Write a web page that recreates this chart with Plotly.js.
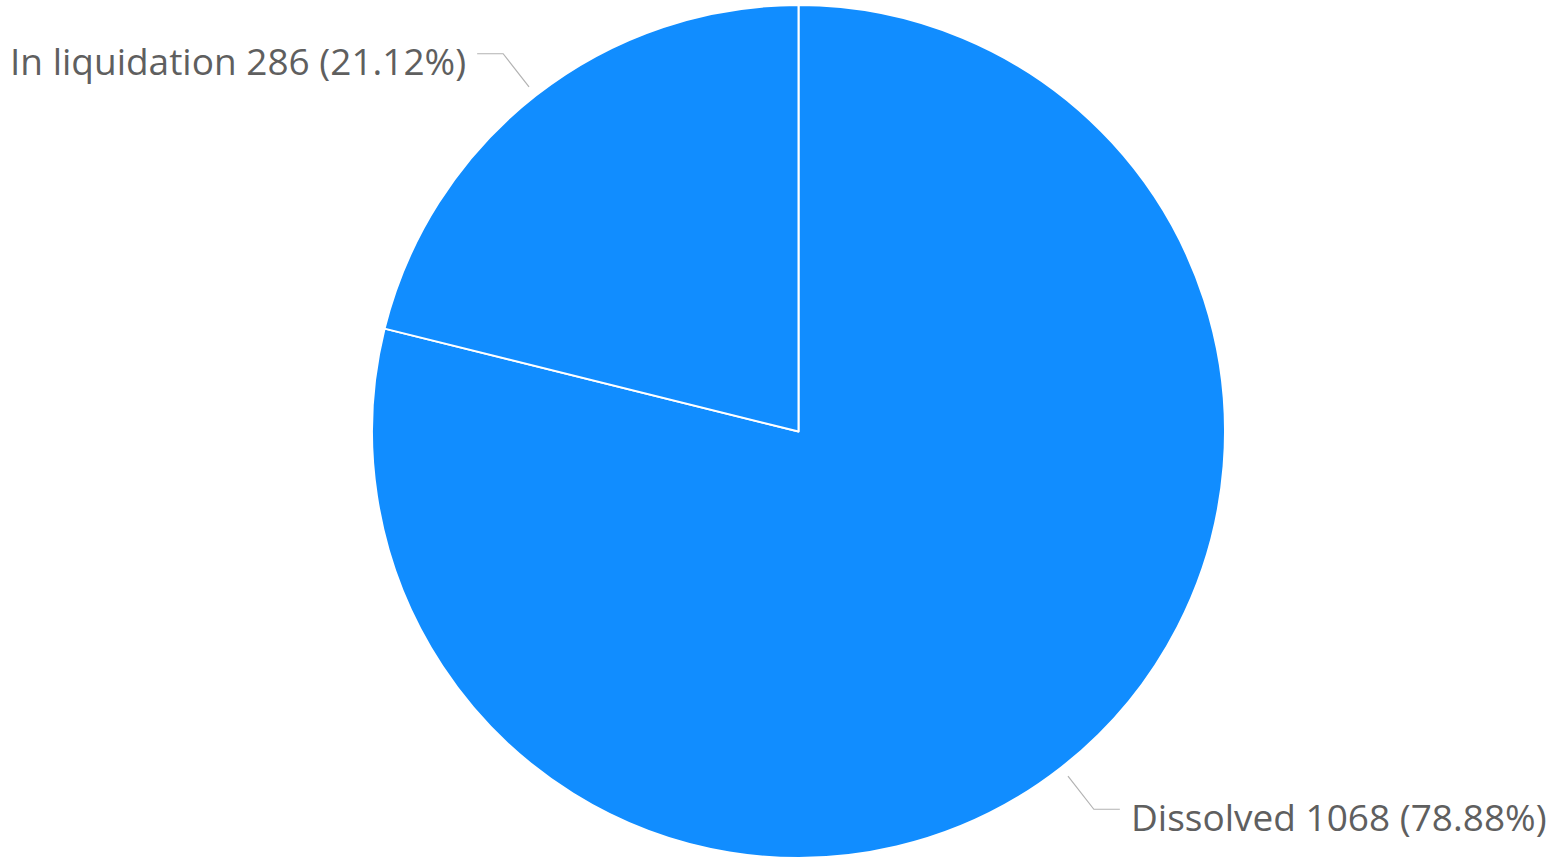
<!DOCTYPE html>
<html>
<head>
<meta charset="utf-8">
<script src="https://cdn.plot.ly/plotly-3.0.1.min.js"></script>
<style>html,body{margin:0;padding:0;background:#fff;}#chart{width:1556px;height:862px;}</style>
</head>
<body>
<div id="chart"></div>
<script>
const categories = ["Dissolved", "In liquidation"];
const values = [1068, 286];
const sliceColors = ["#118DFF", "#118DFF"];

const W = 1556, H = 862;
const cx = 798.5, cy = 431.5, R = 426.5;
const total = values.reduce((a, b) => a + b, 0);

const shapes = [];
const annotations = [];
let cum = 0;
values.forEach((v, i) => {
  const mid = (cum + v / 2) / total * 2 * Math.PI; // clockwise from top
  cum += v;
  const s = Math.sin(mid), c = Math.cos(mid);
  const x1 = cx + (R + 11) * s, y1 = cy - (R + 11) * c;
  const x2 = cx + (R + 53) * s, y2 = cy - (R + 53) * c;
  const dir = s >= 0 ? 1 : -1;
  const x3 = x2 + dir * 26;
  const px = x => x / W, py = y => 1 - y / H;
  shapes.push({
    type: "path", xref: "paper", yref: "paper",
    path: `M${px(x1)},${py(y1)} L${px(x2)},${py(y2)} L${px(x3)},${py(y2)}`,
    line: {color: "#b3b3b3", width: 1.2}
  });
  const pct = (v / total * 100).toFixed(2);
  annotations.push({
    xref: "paper", yref: "paper",
    x: px(x3 + dir * 9), y: py(y2 + 7),
    xanchor: dir > 0 ? "left" : "right", yanchor: "middle",
    text: `${categories[i]} ${v} (${pct}%)`,
    showarrow: false,
    font: {family: "Open Sans, Noto Sans, sans-serif", size: 37, color: "#5f5f5f"}
  });
});

const data = [{
  type: "pie",
  labels: categories,
  values: values,
  sort: false,
  direction: "clockwise",
  rotation: 0,
  textinfo: "none",
  hoverinfo: "label+value+percent",
  marker: {colors: sliceColors, line: {color: "#ffffff", width: 2}},
  domain: {x: [(cx - R) / W, (cx + R) / W], y: [1 - (cy + R) / H, 1 - (cy - R) / H]},
  showlegend: false
}];

const layout = {
  width: W, height: H,
  margin: {l: 0, r: 0, t: 0, b: 0},
  paper_bgcolor: "#ffffff",
  showlegend: false,
  shapes: shapes,
  annotations: annotations
};

Plotly.newPlot("chart", data, layout, {displayModeBar: false, staticPlot: true});
</script>
</body>
</html>
